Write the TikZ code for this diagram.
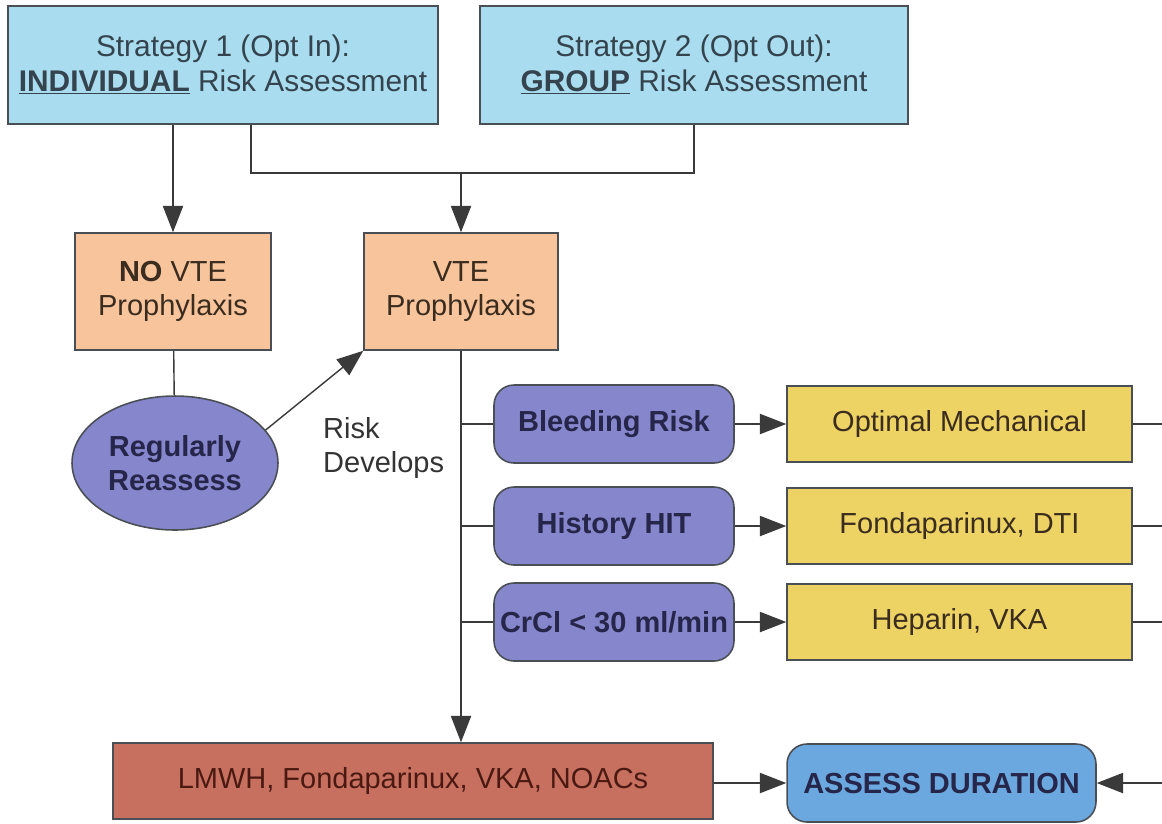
\documentclass[tikz,border=0pt]{standalone}
\usepackage{fontspec}
\setmainfont{Liberation Sans}
\usetikzlibrary{arrows.meta,shapes.geometric}
\definecolor{topblue}{HTML}{A8DCEE}
\definecolor{orangebox}{HTML}{F8C49C}
\definecolor{purplebox}{HTML}{8686CC}
\definecolor{yellowbox}{HTML}{EDD264}
\definecolor{redbox}{HTML}{C87060}
\definecolor{assessblue}{HTML}{6CA8E0}
\definecolor{edgegray}{HTML}{4A4F55}
\definecolor{linegray}{HTML}{3A3A3A}
\definecolor{toptext}{HTML}{34434D}
\definecolor{purptext}{HTML}{26264A}
\definecolor{warmtext}{HTML}{3A2C1E}
\definecolor{redtext}{HTML}{4A1A12}
\begin{document}
\begin{tikzpicture}[x=0.02cm,y=-0.02cm,
  base/.style={draw=edgegray,line width=0.9pt,align=center,inner sep=0pt,
    font=\fontsize{16.5}{19}\selectfont},
  topbox/.style={base,fill=topblue,text=toptext,minimum width=8.6cm,minimum height=2.36cm,
    font=\fontsize{17}{19.5}\selectfont},
  orbox/.style={base,fill=orangebox,text=warmtext,minimum width=3.9cm,minimum height=2.34cm},
  pbox/.style={base,fill=purplebox,rounded corners=0.4cm,text=purptext,minimum width=4.8cm,minimum height=1.56cm,
    font=\fontsize{16.5}{19}\selectfont\bfseries},
  ybox/.style={base,fill=yellowbox,text=warmtext,minimum width=6.9cm,minimum height=1.52cm},
  conn/.style={draw=linegray,line width=0.8pt},
  arr/.style={conn,-{Triangle[length=15pt,width=11.5pt]}}
]
\useasboundingbox (0,0) rectangle (1162,823);
\fill[white] (0,0) rectangle (1162,823);

% top boxes
\node[topbox] (s1) at (223,65) {Strategy 1 (Opt In):\\\textbf{\underline{INDIVIDUAL}} Risk Assessment};
\node[topbox,minimum width=8.56cm] (s2) at (694,65) {Strategy 2 (Opt Out):\\\textbf{\underline{GROUP}} Risk Assessment};

% orange boxes
\node[orbox,minimum width=3.92cm] (novte) at (173,291.5) {\textbf{NO} VTE\\Prophylaxis};
\node[orbox,minimum width=3.88cm] (vte) at (461,291.5) {VTE\\Prophylaxis};

% ellipse
\node[base,ellipse,fill=purplebox,text=purptext,minimum width=4.12cm,minimum height=2.68cm,
  font=\fontsize{16.5}{19}\selectfont\bfseries] (reass) at (175,463) {Regularly\\Reassess};
\node[align=left,anchor=west,text=black!80,font=\fontsize{16.5}{19}\selectfont] (risk) at (317,448) {Risk\\Develops};

% purple and yellow rows
\node[pbox] (bleed) at (614,424) {Bleeding Risk};
\node[pbox] (hit) at (614,526) {History HIT};
\node[pbox] (crcl) at (614,622) {CrCl < 30 ml/min};
\node[ybox] (mech) at (959.5,424) {Optimal Mechanical};
\node[ybox] (fonda) at (959.5,526) {Fondaparinux, DTI};
\node[ybox] (hep) at (959.5,622) {Heparin, VKA};

% bottom
\node[base,fill=redbox,text=redtext,minimum width=12cm,minimum height=1.52cm] (lmwh) at (413,781) {LMWH, Fondaparinux, VKA, NOACs};
\node[base,fill=assessblue,rounded corners=0.4cm,text=purptext,minimum width=6.18cm,minimum height=1.56cm,
  font=\fontsize{16.5}{19}\selectfont\bfseries] (assess) at (941.5,783) {ASSESS DURATION};

% helper coordinates
\coordinate (j1) at (251,173);
\coordinate (j2) at (694,173);
\coordinate (j3) at (461,173);
\coordinate (b1) at (461,424);
\coordinate (b2) at (461,526);
\coordinate (b3) at (461,622);
\coordinate (e1) at (1162,424);
\coordinate (e2) at (1162,526);
\coordinate (e3) at (1162,622);
\coordinate (e4) at (1162,783);

% connectors
\draw[arr] (s1.south -| novte) -- (novte);
\draw[conn] (s1.south -| j1) -- (j1) -- (j2) -- (s2.south);
\draw[arr] (j3) -- (vte);
\draw[conn] (novte) -- (reass);
\draw[arr] (reass.20) -- (vte.south west);
\draw[arr] (vte) -- (lmwh.north -| vte);
\draw[conn] (b1) -- (bleed);
\draw[conn] (b2) -- (hit);
\draw[conn] (b3) -- (crcl);
\draw[arr] (bleed) -- (mech);
\draw[arr] (hit) -- (fonda);
\draw[arr] (crcl) -- (hep);
\draw[conn] (mech) -- (e1);
\draw[conn] (fonda) -- (e2);
\draw[conn] (hep) -- (e3);
\draw[arr] (lmwh.east |- assess) -- (assess);
\draw[arr] (e4) -- (assess);
\end{tikzpicture}
\end{document}
